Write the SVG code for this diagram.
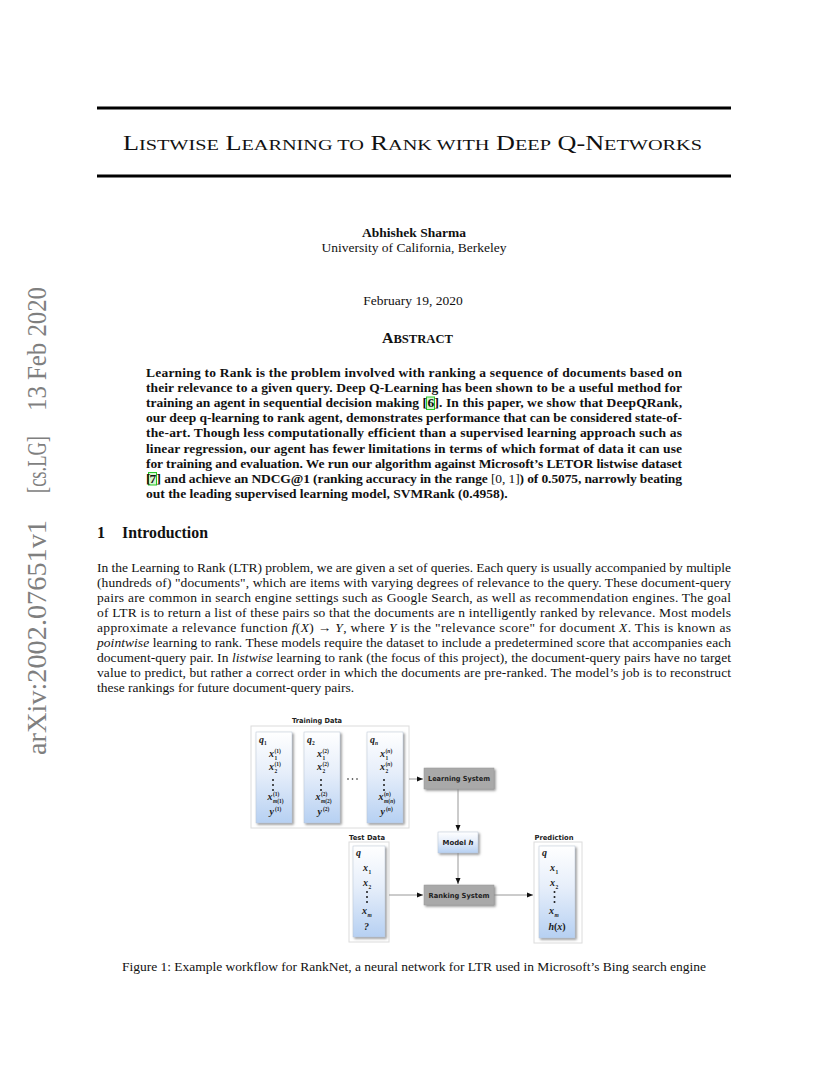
<svg xmlns="http://www.w3.org/2000/svg" width="828" height="1072" viewBox="0 0 828 1072">
<style>
.t{font-family:"Liberation Serif","Times New Roman",serif;fill:#111}
.b{font-weight:bold}
.i{font-style:italic}
.body{font-family:"Liberation Serif","Times New Roman",serif;font-size:13.5px;fill:#111}
.sc{font-size:15.5px}
.stamp{font-family:"Liberation Serif","Times New Roman",serif;font-size:28px;fill:#7f7f7f}
.lbl{font-family:"DejaVu Sans","Verdana",sans-serif;font-weight:bold;font-size:7px;fill:#222}
.m{font-family:"Liberation Serif",serif;font-weight:bold;font-style:italic;font-size:10px;fill:#1a1a1a}
.s{font-family:"Liberation Serif",serif;font-weight:bold;font-size:5.5px;fill:#1a1a1a}
.outer{fill:#fff;stroke:#dcdcdc;stroke-width:1}
.col{fill:url(#cg);stroke:#b8c4d4;stroke-width:0.5;filter:url(#sh)}
.gray{fill:#a9a9a9;stroke:#999;stroke-width:0.5;filter:url(#sh)}
.conn{stroke:#8c8c8c;stroke-width:0.9;fill:none;marker-end:url(#ah)}
.dot{fill:#1a1a1a}
.cite{fill:#d6f5cf;stroke:#29c829;stroke-width:1}
</style>
<defs>
<linearGradient id="cg" x1="0" y1="0" x2="0" y2="1">
<stop offset="0" stop-color="#ffffff"/>
<stop offset="0.45" stop-color="#e6eefa"/>
<stop offset="1" stop-color="#b6d0f2"/>
</linearGradient>
<filter id="sh" x="-20%" y="-20%" width="150%" height="150%">
<feDropShadow dx="1.5" dy="1.5" stdDeviation="0.8" flood-color="#666" flood-opacity="0.7"/>
</filter>
<marker id="ah" markerUnits="userSpaceOnUse" markerWidth="6" markerHeight="6" viewBox="0 0 6 6" refX="6" refY="3" orient="auto">
<path d="M0,0.5 L6,3 L0,5.5 Z" fill="#111"/>
</marker>
</defs>
<rect width="828" height="1072" fill="#fff"/>

<!-- arXiv stamp -->
<g transform="translate(46,757) rotate(-90)">
<text class="stamp" x="2" y="0" textLength="235" lengthAdjust="spacingAndGlyphs">arXiv:2002.07651v1</text>
<text class="stamp" x="264" y="0" textLength="57" lengthAdjust="spacingAndGlyphs">[cs.LG]</text>
<text class="stamp" x="346" y="0" textLength="124" lengthAdjust="spacingAndGlyphs">13 Feb 2020</text>
</g>

<!-- Title -->
<line x1="97" y1="108" x2="731" y2="108" stroke="#000" stroke-width="2.8"/>
<text class="t" x="123" y="150" font-size="20" textLength="579" lengthAdjust="spacingAndGlyphs">L<tspan class="sc">ISTWISE</tspan> L<tspan class="sc">EARNING TO</tspan> R<tspan class="sc">ANK WITH</tspan> D<tspan class="sc">EEP</tspan> Q-N<tspan class="sc">ETWORKS</tspan></text>
<line x1="97" y1="176" x2="731" y2="176" stroke="#000" stroke-width="2.8"/>

<text class="body b" x="414" y="237" text-anchor="middle">Abhishek Sharma</text>
<text class="body" x="414" y="252" text-anchor="middle">University of California, Berkeley</text>
<text class="body" x="413" y="305" text-anchor="middle">February 19, 2020</text>
<text class="t b" x="382" y="343" font-size="15" textLength="71" lengthAdjust="spacingAndGlyphs">A<tspan font-size="12">BSTRACT</tspan></text>

<!-- Abstract -->
<g class="body b">
<text x="146" y="377" textLength="536" lengthAdjust="spacing">Learning to Rank is the problem involved with ranking a sequence of documents based on</text>
<text x="146" y="392.1" textLength="536" lengthAdjust="spacing">their relevance to a given query. Deep Q-Learning has been shown to be a useful method for</text>
<rect class="cite" x="426.5" y="397" width="8" height="12.5"/>
<text x="146" y="407.2" textLength="281" lengthAdjust="spacing">training an agent in sequential decision making [</text>
<text x="427.5" y="407.2">6</text>
<text x="434.5" y="407.2" textLength="247.5" lengthAdjust="spacing">]. In this paper, we show that DeepQRank,</text>
<text x="146" y="422.3" textLength="536" lengthAdjust="spacing">our deep q-learning to rank agent, demonstrates performance that can be considered state-of-</text>
<text x="146" y="437.4" textLength="536" lengthAdjust="spacing">the-art.  Though less computationally efficient than a supervised learning approach such as</text>
<text x="146" y="452.5" textLength="536" lengthAdjust="spacing">linear regression, our agent has fewer limitations in terms of which format of data it can use</text>
<text x="146" y="467.6" textLength="536" lengthAdjust="spacing">for training and evaluation. We run our algorithm against Microsoft’s LETOR listwise dataset</text>
<rect class="cite" x="148.5" y="472.5" width="8" height="12.5"/>
<text x="146" y="482.7">[</text>
<text x="149.5" y="482.7">7</text>
<text x="156.5" y="482.7" textLength="525.5" lengthAdjust="spacing">] and achieve an NDCG@1 (ranking accuracy in the range <tspan font-weight="normal">[0, 1]</tspan>) of 0.5075, narrowly beating</text>
<text x="146" y="497.8">out the leading supervised learning model, SVMRank (0.4958).</text>
</g>

<!-- Introduction -->
<text class="t b" x="97" y="538" font-size="16.2">1</text>
<text class="t b" x="122" y="538" font-size="16.2" textLength="86" lengthAdjust="spacingAndGlyphs">Introduction</text>
<g class="body">
<text x="97" y="572" textLength="634" lengthAdjust="spacing">In the Learning to Rank (LTR) problem, we are given a set of queries. Each query is usually accompanied by multiple</text>
<text x="97" y="587" textLength="634" lengthAdjust="spacing">(hundreds of) "documents", which are items with varying degrees of relevance to the query. These document-query</text>
<text x="97" y="602" textLength="634" lengthAdjust="spacing">pairs are common in search engine settings such as Google Search, as well as recommendation engines. The goal</text>
<text x="97" y="617" textLength="634" lengthAdjust="spacing">of LTR is to return a list of these pairs so that the documents are n intelligently ranked by relevance. Most models</text>
<text x="97" y="632" textLength="634" lengthAdjust="spacing">approximate a relevance function <tspan class="i">f</tspan>(<tspan class="i">X</tspan>) → <tspan class="i">Y</tspan>, where <tspan class="i">Y</tspan> is the "relevance score" for document <tspan class="i">X</tspan>. This is known as</text>
<text x="97" y="647" textLength="634" lengthAdjust="spacing"><tspan class="i">pointwise</tspan> learning to rank. These models require the dataset to include a predetermined score that accompanies each</text>
<text x="97" y="662" textLength="634" lengthAdjust="spacing">document-query pair. In <tspan class="i">listwise</tspan> learning to rank (the focus of this project), the document-query pairs have no target</text>
<text x="97" y="677" textLength="634" lengthAdjust="spacing">value to predict, but rather a correct order in which the documents are pre-ranked. The model’s job is to reconstruct</text>
<text x="97" y="692">these rankings for future document-query pairs.</text>
</g>

<!-- Figure -->
<g id="training-data">
<rect class="outer" x="251" y="726" width="158" height="102"/>
<text class="lbl" x="317" y="723" text-anchor="middle" textLength="50" lengthAdjust="spacingAndGlyphs">Training Data</text>
</g>
<g id="query-1">
<rect class="col" x="256" y="732" width="36" height="91"/>
<text class="m" x="259" y="743">q</text><text class="s" x="264" y="745">1</text>
<text class="m" x="269" y="757">x</text><text class="s" x="274.5" y="752.5">(1)</text><text class="s" x="274.5" y="759.5">1</text>
<text class="m" x="269" y="770">x</text><text class="s" x="274.5" y="765.5">(1)</text><text class="s" x="274.5" y="772.5">2</text>
<circle class="dot" cx="273" cy="780" r="1"/><circle class="dot" cx="273" cy="785" r="1"/><circle class="dot" cx="273" cy="790" r="1"/>
<text class="m" x="267.5" y="800">x</text><text class="s" x="273" y="795.5">(1)</text><text class="s" x="273" y="802.5"><tspan font-style="italic">m</tspan>(1)</text>
<text class="m" x="269.5" y="815">y</text><text class="s" x="275" y="810.5">(1)</text>
</g>
<g id="query-2">
<rect class="col" x="304" y="732" width="36" height="91"/>
<text class="m" x="307" y="743">q</text><text class="s" x="312" y="745">2</text>
<text class="m" x="317" y="757">x</text><text class="s" x="322.5" y="752.5">(2)</text><text class="s" x="322.5" y="759.5">1</text>
<text class="m" x="317" y="770">x</text><text class="s" x="322.5" y="765.5">(2)</text><text class="s" x="322.5" y="772.5">2</text>
<circle class="dot" cx="321" cy="780" r="1"/><circle class="dot" cx="321" cy="785" r="1"/><circle class="dot" cx="321" cy="790" r="1"/>
<text class="m" x="315.5" y="800">x</text><text class="s" x="321" y="795.5">(2)</text><text class="s" x="321" y="802.5"><tspan font-style="italic">m</tspan>(2)</text>
<text class="m" x="317.5" y="815">y</text><text class="s" x="323" y="810.5">(2)</text>
</g>
<g id="ellipsis">
<circle class="dot" cx="348" cy="779" r="0.8"/><circle class="dot" cx="352.5" cy="779" r="0.8"/><circle class="dot" cx="357" cy="779" r="0.8"/>
</g>
<g id="query-n">
<rect class="col" x="367" y="732" width="36" height="91"/>
<text class="m" x="370" y="743">q</text><text class="s" x="375" y="745" font-style="italic">n</text>
<text class="m" x="380" y="757">x</text><text class="s" x="385.5" y="752.5">(<tspan font-style="italic">n</tspan>)</text><text class="s" x="385.5" y="759.5">1</text>
<text class="m" x="380" y="770">x</text><text class="s" x="385.5" y="765.5">(<tspan font-style="italic">n</tspan>)</text><text class="s" x="385.5" y="772.5">2</text>
<circle class="dot" cx="384" cy="780" r="1"/><circle class="dot" cx="384" cy="785" r="1"/><circle class="dot" cx="384" cy="790" r="1"/>
<text class="m" x="378.5" y="800">x</text><text class="s" x="384" y="795.5">(<tspan font-style="italic">n</tspan>)</text><text class="s" x="384" y="802.5"><tspan font-style="italic">m</tspan>(<tspan font-style="italic">n</tspan>)</text>
<text class="m" x="380.5" y="815">y</text><text class="s" x="386" y="810.5">(<tspan font-style="italic">n</tspan>)</text>
</g>

<g id="learning-system">
<rect class="gray" x="424" y="768" width="70" height="21"/>
<text class="lbl" x="459" y="781" text-anchor="middle" textLength="62" lengthAdjust="spacingAndGlyphs">Learning System</text>
</g>
<g id="model-h">
<rect class="col" x="438" y="832" width="40" height="21"/>
<text class="lbl" x="458" y="845" text-anchor="middle" textLength="31" lengthAdjust="spacingAndGlyphs">Model <tspan font-style="italic">h</tspan></text>
</g>
<g id="test-data">
<rect class="outer" x="349" y="842" width="40" height="100"/>
<text class="lbl" x="367" y="840" text-anchor="middle" textLength="36" lengthAdjust="spacingAndGlyphs">Test Data</text>
<rect class="col" x="353" y="846" width="32" height="91"/>
<text class="m" x="356" y="856">q</text>
<text class="m" x="363" y="871">x</text><text class="s" x="368.5" y="873.5">1</text>
<text class="m" x="363" y="886">x</text><text class="s" x="368.5" y="888.5">2</text>
<circle class="dot" cx="367" cy="892" r="1"/><circle class="dot" cx="367" cy="897" r="1"/><circle class="dot" cx="367" cy="902" r="1"/>
<text class="m" x="362" y="914">x</text><text class="s" x="367.5" y="916.5" font-style="italic">m</text>
<text class="m" x="364" y="930" font-style="normal">?</text>
</g>
<g id="ranking-system">
<rect class="gray" x="424" y="885" width="70" height="20"/>
<text class="lbl" x="459" y="898" text-anchor="middle" textLength="61" lengthAdjust="spacingAndGlyphs">Ranking System</text>
</g>
<g id="prediction">
<rect class="outer" x="534" y="842" width="48" height="101"/>
<text class="lbl" x="554" y="840" text-anchor="middle" textLength="39" lengthAdjust="spacingAndGlyphs">Prediction</text>
<rect class="col" x="539" y="846" width="36" height="92"/>
<text class="m" x="542" y="856">q</text>
<text class="m" x="550" y="871">x</text><text class="s" x="555.5" y="873.5">1</text>
<text class="m" x="550" y="886">x</text><text class="s" x="555.5" y="888.5">2</text>
<circle class="dot" cx="554.5" cy="892" r="1"/><circle class="dot" cx="554.5" cy="897" r="1"/><circle class="dot" cx="554.5" cy="902" r="1"/>
<text class="m" x="549" y="914">x</text><text class="s" x="554.5" y="916.5" font-style="italic">m</text>
<text class="m" x="557" y="930" text-anchor="middle">h<tspan font-style="normal">(</tspan>x<tspan font-style="normal">)</tspan></text>
</g>

<g id="connectors">
<line class="conn" x1="409" y1="779" x2="423" y2="779"/>
<line class="conn" x1="458" y1="789" x2="458" y2="831"/>
<line class="conn" x1="458" y1="853" x2="458" y2="884"/>
<line class="conn" x1="389" y1="895" x2="423" y2="895"/>
<line class="conn" x1="494" y1="895" x2="533" y2="895"/>
</g>

<text class="body" x="122" y="971" textLength="584" lengthAdjust="spacing">Figure 1: Example workflow for RankNet, a neural network for LTR used in Microsoft’s Bing search engine</text>
</svg>
